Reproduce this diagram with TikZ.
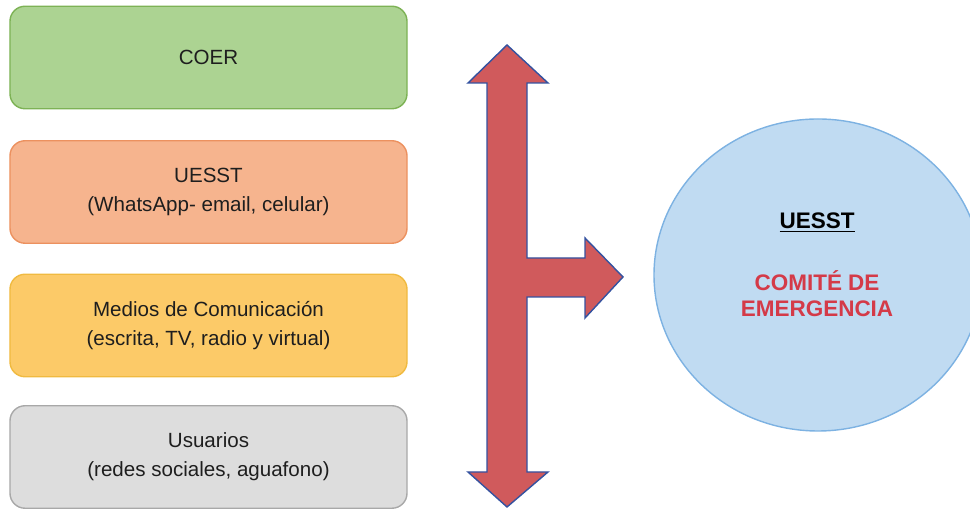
\documentclass[tikz,border=0pt]{standalone}
\usepackage{fontspec}
\setmainfont{Liberation Sans}
\usepackage{tikz}
\usetikzlibrary{positioning}

\definecolor{verdeF}{RGB}{172,211,146}
\definecolor{verdeB}{RGB}{125,178,85}
\definecolor{naranjaF}{RGB}{246,180,142}
\definecolor{naranjaB}{RGB}{236,145,95}
\definecolor{amarilloF}{RGB}{252,202,104}
\definecolor{amarilloB}{RGB}{240,186,64}
\definecolor{grisF}{RGB}{221,221,221}
\definecolor{grisB}{RGB}{168,168,168}
\definecolor{azulF}{RGB}{192,219,242}
\definecolor{azulB}{RGB}{125,178,226}
\definecolor{rojoF}{RGB}{208,90,92}
\definecolor{rojoB}{RGB}{52,82,160}
\definecolor{rojoT}{RGB}{212,58,72}
\definecolor{textoC}{RGB}{30,30,30}

\begin{document}
\begin{tikzpicture}[
    caja/.style={rectangle,rounded corners=0.3cm,line width=0.8pt,
        minimum width=7.94cm,minimum height=2.05cm,align=center,
        text=textoC,font=\fontsize{11.7}{16.5}\selectfont},
    flecha/.style={fill=rojoF,draw=rojoB,line width=0.8pt,line join=miter},
    titulo/.style={font=\fontsize{12.8}{15}\selectfont\bfseries}
    ]
    \clip (0,0) rectangle (19.4,10.2);
    \node[caja,fill=verdeF,draw=verdeB] (coer) at (4.17,9.05) {COER};
    \node[caja,fill=naranjaF,draw=naranjaB] (uesst) at (4.17,6.36)
        {UESST\\(WhatsApp- email, celular)};
    \node[caja,fill=amarilloF,draw=amarilloB] (medios) at (4.17,3.69)
        {Medios de Comunicación\\(escrita, TV, radio y virtual)};
    \node[caja,fill=grisF,draw=grisB] (usuarios) at (4.17,1.06)
        {Usuarios\\(redes sociales, aguafono)};
    \draw[flecha] (10.14,9.30) -- (10.96,8.54) -- (10.54,8.54) -- (10.54,5.04)
        -- (11.70,5.04) -- (11.70,5.44) -- (12.46,4.66) -- (11.70,3.84)
        -- (11.70,4.26) -- (10.54,4.26) -- (10.54,0.76) -- (10.96,0.76)
        -- (10.14,0.06) -- (9.36,0.76) -- (9.74,0.76) -- (9.74,8.54)
        -- (9.36,8.54) -- cycle;
    \path coordinate (centro) at (16.36,4.70);
    \fill[azulF] (centro) ellipse (3.28cm and 3.12cm);
    \draw[azulB,line width=0.8pt] (centro) ellipse (3.28cm and 3.12cm);
    \node[titulo,text=black] (jefe) at (16.34,5.74) {\underline{UESST}};
    \node[titulo,text=rojoT,align=center] (comite) at (16.34,4.33)
        {COMITÉ DE\\EMERGENCIA};
\end{tikzpicture}
\end{document}
